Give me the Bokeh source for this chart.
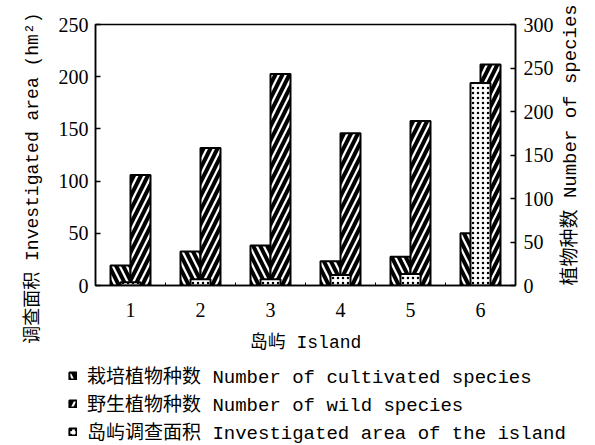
import math
from bokeh.plotting import figure
from bokeh.layouts import column, row
from bokeh.models import (Range1d, LinearAxis, FixedTicker, Legend, LegendItem,
                          ColumnDataSource, Title)
from bokeh.transform import dodge
from bokeh.embed import file_html
from bokeh.resources import INLINE

islands = [1, 2, 3, 4, 5, 6]
island_labels = ["1", "2", "3", "4", "5", "6"]
cultivated = [23, 39, 46, 28, 33, 60]
wild = [127, 158, 243, 175, 189, 254]
area = [3, 6, 6, 10, 11, 194]
area_ticks = [0, 50, 100, 150, 200, 250]
species_ticks = [0, 50, 100, 150, 200, 250, 300]

x_title = "岛屿 Island"
left_title = "调查面积 Investigated area (hm²)"
right_title = "植物种数 Number of species"
legend_labels = [
    "栽培植物种数 Number of cultivated species",
    "野生植物种数 Number of wild species",
    "岛屿调查面积 Investigated area of the island",
]

MONO = "Liberation Mono, Noto Sans CJK SC"
SERIF = "Liberation Serif"

src = ColumnDataSource(dict(island=islands, cultivated=cultivated, wild=wild, area=area))

cult_style = dict(fill_color="white", line_color="black", line_width=2,
                  hatch_pattern="left_diagonal_line", hatch_color="black", hatch_scale=14, hatch_weight=4)
wild_style = dict(fill_color="white", line_color="black", line_width=2,
                  hatch_pattern="right_diagonal_line", hatch_color="black", hatch_scale=14, hatch_weight=4)
area_style = dict(fill_color="white", line_color="black", line_width=2,
                  hatch_pattern="dot", hatch_color="black", hatch_scale=5, hatch_weight=1.3)

p = figure(width=595, height=355, x_range=Range1d(0.5, 6.5), y_range=Range1d(0, 250),
           output_backend="svg", toolbar_location=None,
           min_border_left=95, min_border_right=80, min_border_top=24, min_border_bottom=70)
p.extra_y_ranges = {"species": Range1d(0, 300)}
p.xgrid.visible = False
p.ygrid.visible = False
p.outline_line_color = "black"
p.outline_line_width = 1.5
p.background_fill_color = "white"

w = 2 / 7  # bar width in category units

p.vbar(x=dodge("island", -w / 2, range=p.x_range), top="cultivated", width=w, source=src,
       y_range_name="species", **cult_style)
p.vbar(x=dodge("island", w / 2, range=p.x_range), top="wild", width=w, source=src,
       y_range_name="species", **wild_style)
p.vbar(x="island", top="area", width=w, source=src, **area_style)

# bottom axis
xa = p.xaxis[0]
xa.ticker = FixedTicker(ticks=islands, minor_ticks=[i + 0.5 for i in islands[:-1]])
xa.major_label_overrides = {i: l for i, l in zip(islands, island_labels)}
xa.major_tick_in = 0
xa.major_tick_out = 0
xa.minor_tick_in = 3
xa.minor_tick_out = 0
xa.axis_label = x_title
xa.major_label_standoff = 17
xa.axis_label_standoff = 13

# left axis
ya = p.yaxis[0]
ya.ticker = FixedTicker(ticks=area_ticks)
ya.major_tick_in = 5
ya.major_tick_out = 0
ya.minor_tick_in = 0
ya.minor_tick_out = 0
ya.major_label_standoff = 7

# right axis
ra = LinearAxis(y_range_name="species", ticker=FixedTicker(ticks=species_ticks))
ra.major_tick_in = 5
ra.major_tick_out = 0
ra.minor_tick_in = 0
ra.minor_tick_out = 0
ra.major_label_standoff = 8
ra.axis_label = right_title
ra.axis_label_standoff = 14
p.add_layout(ra, "right")

for ax in (xa, ya, ra):
    ax.axis_line_color = "black"
    ax.axis_line_width = 1.5
    ax.major_tick_line_color = "black"
    ax.major_tick_line_width = 1.5
    ax.minor_tick_line_color = "black"
    ax.major_label_text_font = SERIF
    ax.major_label_text_font_size = "20px"
    ax.major_label_text_color = "black"
    ax.axis_label_text_font = MONO
    ax.axis_label_text_font_size = "18px"
    ax.axis_label_text_font_style = "normal"
    ax.axis_label_text_color = "black"
ra.axis_label_text_font_size = "19px"
ra.axis_label_text_baseline = "middle"
_props = ra.properties()
if "axis_label_align" in _props and "axis_label_orientation" in _props:
    # read bottom-up, starting at the bottom of the axis
    ra.axis_label_orientation = math.pi / 2
    ra.axis_label_align = "start"

# left vertical title (reads bottom-up), its end placed just above the frame top
p.add_layout(Title(text=left_title, align="right", offset=-12, standoff=26,
                   text_font=MONO, text_font_size="18px", text_font_style="normal",
                   text_color="black"), "left")

# legend strip below the chart
lg = figure(width=595, height=90, x_range=Range1d(0, 1), y_range=Range1d(0, 1),
            output_backend="svg", toolbar_location=None,
            x_axis_location=None, y_axis_location=None,
            min_border_left=0, min_border_right=0, min_border_top=0, min_border_bottom=0)
lg.grid.visible = False
lg.outline_line_color = None
e1 = lg.vbar(x="island", top="cultivated", width=w, source=src, visible=False, **cult_style)
e2 = lg.vbar(x="island", top="wild", width=w, source=src, visible=False, **wild_style)
e3 = lg.vbar(x="island", top="area", width=w, source=src, visible=False, **area_style)
legend = Legend(items=[LegendItem(label=legend_labels[0], renderers=[e1]),
                       LegendItem(label=legend_labels[1], renderers=[e2]),
                       LegendItem(label=legend_labels[2], renderers=[e3])],
                location=(68, 0), orientation="vertical",
                glyph_width=9, glyph_height=9, label_standoff=10,
                label_text_font=MONO, label_text_font_size="19px", label_text_color="black",
                label_height=20, spacing=0, padding=0, margin=0,
                inactive_fill_alpha=0, click_policy="none",
                border_line_alpha=0, background_fill_alpha=0)
lg.add_layout(legend)

layout = column(p, row(lg, spacing=0), spacing=0)
open("out.html", "w").write(file_html(layout, INLINE))
